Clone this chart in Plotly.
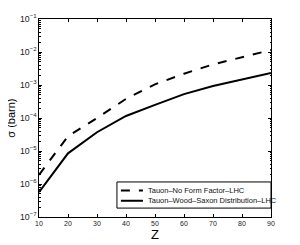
import plotly.graph_objects as go

Z = [10, 20, 30, 40, 50, 60, 70, 80, 90]
no_form_factor = [1.9e-6, 2.8e-5, 1.0e-4, 3.8e-4, 1.05e-3, 2.2e-3, 4.2e-3, 7.0e-3, 1.15e-2]
wood_saxon = [5.7e-7, 8.5e-6, 3.7e-5, 1.15e-4, 2.5e-4, 5.3e-4, 9.3e-4, 1.5e-3, 2.3e-3]
names = ["Tauon\u2013No Form Factor\u2013LHC", "Tauon\u2013Wood\u2013Saxon Distribution\u2013LHC"]
dashes = ["dash", "solid"]
y_title = "\u03c3 (barn)"

fig = go.Figure()
for yv, nm, ds in zip([no_form_factor, wood_saxon], names, dashes):
    fig.add_trace(go.Scatter(x=Z, y=yv, mode="lines", name=nm,
                             line=dict(color="black", width=2, dash=ds)))

axis_common = dict(showline=True, linecolor="black", linewidth=1, mirror="allticks",
                   ticks="inside", tickcolor="black", ticklen=3, showgrid=False,
                   zeroline=False, automargin=False, tickfont=dict(size=7, color="#222222"))

fig.update_xaxes(range=[10, 90], dtick=10, tick0=10,
                 title=dict(text="Z", font=dict(size=13, color="black"), standoff=2),
                 **axis_common)
fig.update_yaxes(type="log", range=[-7, -1], dtick=1, exponentformat="power",
                 minor=dict(ticks="inside", ticklen=1.5, tickcolor="black", dtick="D1"),
                 **axis_common)

# y-axis title as a rotated annotation
fig.add_annotation(xref="paper", yref="paper", x=-0.122, y=0.5, text=y_title, showarrow=False,
                   textangle=-90, xanchor="center", yanchor="middle",
                   font=dict(size=11, color="black"))

# manual legend (box, line samples, labels) in paper coordinates
box = dict(x0=0.336, x1=1.0, y0=0.045, y1=0.177)
rows_y = [0.134, 0.082]
fig.add_shape(type="rect", xref="paper", yref="paper", **box,
              line=dict(color="black", width=1), fillcolor="white", layer="above")
for ry, nm, ds in zip(rows_y, names, dashes):
    fig.add_shape(type="line", xref="paper", yref="paper", x0=0.353, x1=0.448, y0=ry, y1=ry,
                  line=dict(color="black", width=2, dash=ds), layer="above")
    fig.add_annotation(xref="paper", yref="paper", x=0.461, y=ry, text=nm, showarrow=False,
                       xanchor="left", yanchor="middle",
                       font=dict(size=7.5, color="#111111"))

fig.update_layout(
    width=292, height=237,
    margin=dict(l=31, r=29, t=11, b=28),
    paper_bgcolor="white", plot_bgcolor="white",
    font=dict(family="Liberation Sans, Arial, sans-serif", color="black"),
    showlegend=False,
)

fig.write_html("out.html")
